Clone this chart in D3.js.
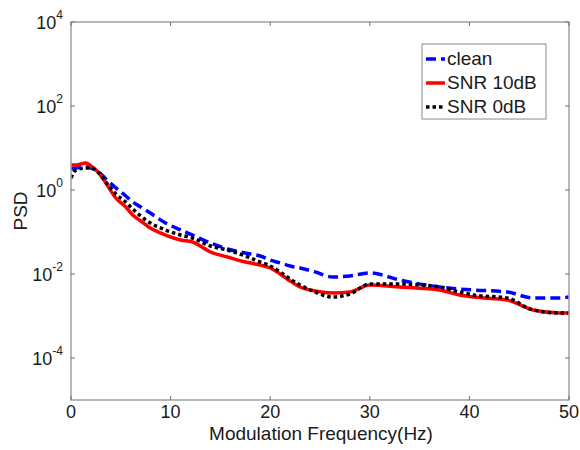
<!DOCTYPE html>
<html>
<head>
<meta charset="utf-8">
<script src="https://cdn.jsdelivr.net/npm/d3@7"></script>
<style>
  body { margin: 0; background: #fff; }
  svg { display: block; font-family: Arial, "Liberation Sans", sans-serif; }
</style>
</head>
<body>
<div id="chart"></div>
<script>
// Modulation frequency (Hz) sample points
const freq = [0, 0.5, 1.5, 2, 2.8, 3.5, 4.5, 5.5, 6.2, 7, 7.8, 9.5, 11, 12.2, 14, 15.7, 17.5,
  19, 20, 21, 22, 23, 24.5, 26.3, 28, 30, 33, 37, 39, 40.4, 43.8, 46.4, 49.1, 50];

// PSD values
const clean = [3.16, 3.34, 3.53, 3.34, 2.68, 1.83, 1.12, 0.72, 0.518, 0.394, 0.299, 0.164, 0.112,
  0.0848, 0.0547, 0.0394, 0.0316, 0.0268, 0.0215, 0.0183, 0.0155, 0.0139, 0.0112, 0.00848,
  0.00896, 0.0106, 0.0072, 0.0049, 0.00439, 0.00416, 0.00373, 0.00268, 0.00268, 0.00283];

const snr10 = [3.94, 3.94, 4.40, 3.73, 2.54, 1.47, 0.645, 0.394, 0.254, 0.183, 0.132, 0.0848,
  0.0645, 0.0578, 0.0334, 0.0254, 0.0193, 0.0164, 0.0139, 0.0100, 0.00681, 0.0049, 0.00394,
  0.00353, 0.00373, 0.00547, 0.0049, 0.00416, 0.00316, 0.00283, 0.0024, 0.00139, 0.00118, 0.00118];

const snr0 = [1.93, 2.99, 3.34, 3.34, 2.54, 1.55, 0.803, 0.518, 0.353, 0.24, 0.173, 0.112,
  0.0848, 0.072, 0.0464, 0.0373, 0.0268, 0.0193, 0.0155, 0.0112, 0.00761, 0.00547, 0.00373,
  0.00283, 0.00334, 0.00578, 0.00578, 0.0049, 0.00373, 0.00316, 0.00268, 0.00139, 0.00118, 0.00118];

const xTicks = [0, 10, 20, 30, 40, 50];
const yTickExp = [4, 2, 0, -2, -4];

const seriesNames = ['clean', 'SNR 10dB', 'SNR 0dB'];
const seriesValues = [clean, snr10, snr0];
const seriesColors = ['#0000ff', '#ff0000', '#000000'];
const seriesDash = ['10,5', null, '3.5,3'];

const width = 580, height = 450;
const margin = { left: 71, right: 11, top: 22, bottom: 50 };

const svg = d3.select('#chart').append('svg')
  .attr('width', width)
  .attr('height', height);

const x = d3.scaleLinear().domain([0, 50]).range([margin.left, width - margin.right]);
const y = d3.scaleLog().domain([1e-5, 1e4]).range([height - margin.bottom, margin.top]);

const axisColor = '#a0a0a0';
const x0 = x.range()[0], x1 = x.range()[1];
const y0 = y.range()[0], y1 = y.range()[1];

// Curves (clip to plot area)
svg.append('clipPath').attr('id', 'plot-clip')
  .append('rect')
  .attr('x', x0).attr('y', y1)
  .attr('width', x1 - x0).attr('height', y0 - y1);

const line = d3.line()
  .x(d => x(d[0]))
  .y(d => y(d[1]))
  .curve(d3.curveMonotoneX);

const curves = svg.append('g').attr('clip-path', 'url(#plot-clip)');
seriesValues.forEach((vals, i) => {
  curves.append('path')
    .datum(freq.map((f, j) => [f, vals[j]]))
    .attr('d', line)
    .attr('fill', 'none')
    .attr('stroke', seriesColors[i])
    .attr('stroke-width', 3.5)
    .attr('stroke-dasharray', seriesDash[i]);
});

// Axes box
svg.append('rect')
  .attr('x', x0).attr('y', y1)
  .attr('width', x1 - x0).attr('height', y0 - y1)
  .attr('fill', 'none')
  .attr('stroke', axisColor)
  .attr('stroke-width', 1.5);

// Inward ticks on all four sides
const tickLen = 4;
const ticks = svg.append('g').attr('stroke', '#707070').attr('stroke-width', 1);
xTicks.forEach(t => {
  ticks.append('line').attr('x1', x(t)).attr('x2', x(t)).attr('y1', y0).attr('y2', y0 - tickLen);
  ticks.append('line').attr('x1', x(t)).attr('x2', x(t)).attr('y1', y1).attr('y2', y1 + tickLen);
});
yTickExp.forEach(e => {
  const yy = y(Math.pow(10, e));
  ticks.append('line').attr('x1', x0).attr('x2', x0 + tickLen).attr('y1', yy).attr('y2', yy);
  ticks.append('line').attr('x1', x1).attr('x2', x1 - tickLen).attr('y1', yy).attr('y2', yy);
});

// X tick labels
svg.append('g')
  .selectAll('text')
  .data(xTicks)
  .enter()
  .append('text')
  .attr('x', d => x(d))
  .attr('y', y0 + 18)
  .attr('text-anchor', 'middle')
  .attr('font-size', 18)
  .attr('fill', '#1a1a1a')
  .text(d => d);

// Y tick labels as 10^e
const yLabels = svg.append('g');
yTickExp.forEach(e => {
  const t = yLabels.append('text')
    .attr('x', x0 - 8)
    .attr('y', y(Math.pow(10, e)) + 7)
    .attr('text-anchor', 'end')
    .attr('font-size', 18)
    .attr('fill', '#1a1a1a');
  t.append('tspan').text('10');
  t.append('tspan')
    .attr('font-size', 12)
    .attr('dy', -10)
    .text(e);
});

// Axis titles
svg.append('text')
  .attr('x', (x0 + x1) / 2 + 1)
  .attr('y', 440)
  .attr('text-anchor', 'middle')
  .attr('font-size', 19)
  .attr('fill', '#1a1a1a')
  .text('Modulation Frequency(Hz)');

svg.append('text')
  .attr('transform', `translate(27,${(y0 + y1) / 2}) rotate(-90)`)
  .attr('text-anchor', 'middle')
  .attr('font-size', 19)
  .attr('fill', '#1a1a1a')
  .text('PSD');

// Legend
const legend = svg.append('g');
legend.append('rect')
  .attr('x', 422).attr('y', 44)
  .attr('width', 124).attr('height', 75)
  .attr('fill', '#fff')
  .attr('stroke', '#8a8a8a')
  .attr('stroke-width', 1);

seriesNames.forEach((name, i) => {
  const ly = 59 + i * 24;
  legend.append('line')
    .attr('x1', 426).attr('x2', 445)
    .attr('y1', ly).attr('y2', ly)
    .attr('stroke', seriesColors[i])
    .attr('stroke-width', 3.5)
    .attr('stroke-dasharray', seriesDash[i]);
  legend.append('text')
    .attr('x', 447)
    .attr('y', ly + 6)
    .attr('font-size', 19)
    .attr('fill', '#1a1a1a')
    .text(name);
});
</script>
</body>
</html>
